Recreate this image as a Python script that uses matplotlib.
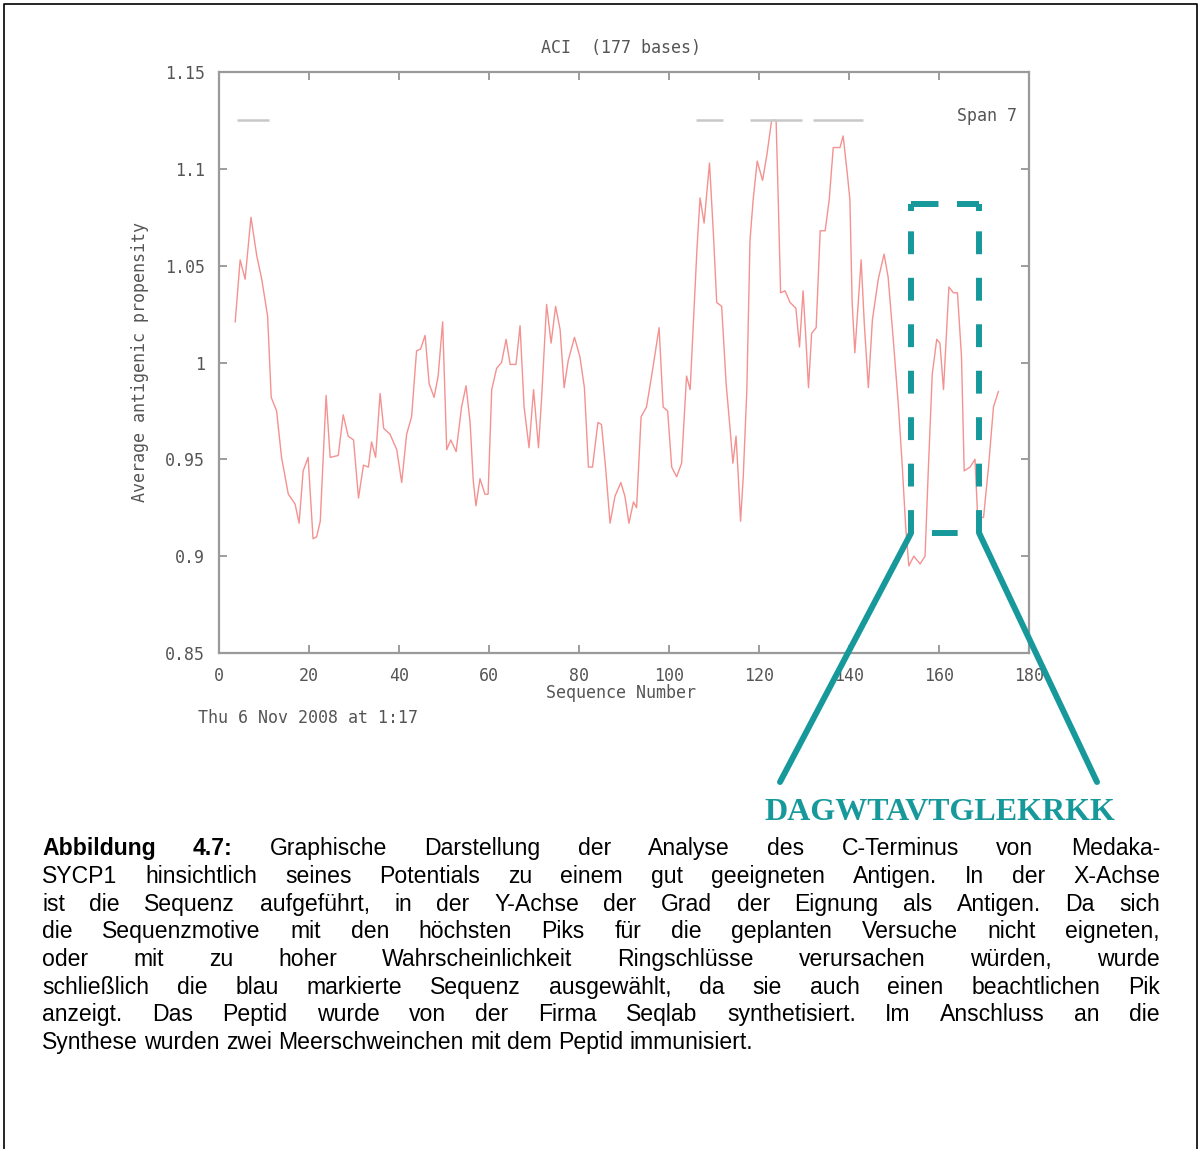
import matplotlib
matplotlib.use("Agg")
import matplotlib.pyplot as plt
from matplotlib.lines import Line2D
from matplotlib.patches import ConnectionPatch
import numpy as np

W, H = 1201, 1149

# antigenic propensity profile (span 7)
seq_pos = [3.6, 4.7, 5.8, 7.1, 8.4, 9.5, 10.8, 11.6, 12.8, 13.9, 15.4, 16.9, 17.8, 18.7, 19.8,
           20.9, 21.7, 22.5, 23.8, 24.7, 26.5, 27.6, 28.7, 29.9, 31.0, 32.1, 33.2, 33.9, 34.8,
           35.8, 36.6, 38.0, 39.5, 40.6, 41.7, 42.8, 43.9, 44.8, 45.8, 46.7, 47.8, 48.7, 49.7,
           50.6, 51.5, 52.7, 53.9, 54.9, 55.8, 56.5, 57.1, 58.0, 59.1, 59.8, 60.6, 61.7, 62.8,
           63.8, 64.7, 66.0, 66.9, 67.8, 68.9, 69.9, 71.0, 71.7, 72.8, 73.8, 74.8, 75.8, 76.7,
           77.6, 79.0, 80.2, 81.2, 82.1, 83.0, 84.2, 85.0, 85.9, 86.9, 88.0, 89.3, 90.2, 91.1,
           92.1, 92.8, 93.8, 95.0, 96.2, 97.8, 98.7, 99.7, 100.6, 101.7, 102.8, 103.9, 104.7,
           105.4, 106.2, 106.9, 107.8, 109.0, 109.9, 110.6, 111.7, 112.7, 113.6, 114.2, 114.9,
           115.4, 115.9, 116.5, 117.3, 118.0, 118.7, 119.6, 120.8, 121.8, 122.8, 123.8, 124.3,
           124.8, 125.8, 126.9, 128.2, 129.0, 129.8, 130.4, 131.0, 131.7, 132.7, 133.6, 134.7,
           135.6, 136.5, 138.0, 138.7, 139.6, 140.2, 140.7, 141.3, 142.7, 143.4, 144.3, 145.2,
           146.5, 147.8, 148.7, 149.9, 151.0, 151.8, 152.6, 153.3, 154.4, 155.8, 156.9, 157.6,
           158.5, 159.5, 160.2, 161.0, 161.7, 162.2, 163.2, 164.1, 165.0, 165.6, 166.9, 168.0,
           168.6, 169.9, 171.0, 172.1, 173.2]
propensity = [1.021, 1.053, 1.043, 1.075, 1.055, 1.043, 1.024, 0.982, 0.975, 0.951, 0.932, 0.927,
              0.917, 0.944, 0.951, 0.909, 0.910, 0.918, 0.983, 0.951, 0.952, 0.973, 0.962, 0.960,
              0.930, 0.947, 0.946, 0.959, 0.951, 0.984, 0.966, 0.963, 0.955, 0.938, 0.963, 0.972,
              1.006, 1.007, 1.014, 0.989, 0.982, 0.993, 1.021, 0.955, 0.960, 0.954, 0.977, 0.988,
              0.969, 0.939, 0.926, 0.940, 0.932, 0.932, 0.986, 0.997, 1.000, 1.012, 0.999, 0.999,
              1.019, 0.977, 0.956, 0.986, 0.956, 0.982, 1.030, 1.010, 1.029, 1.017, 0.987, 1.001,
              1.013, 1.003, 0.987, 0.946, 0.946, 0.969, 0.968, 0.946, 0.917, 0.931, 0.938, 0.931,
              0.917, 0.928, 0.925, 0.972, 0.977, 0.994, 1.018, 0.977, 0.975, 0.946, 0.941, 0.948,
              0.993, 0.986, 1.020, 1.058, 1.085, 1.072, 1.103, 1.065, 1.031, 1.029, 0.989, 0.965,
              0.948, 0.962, 0.941, 0.918, 0.941, 0.986, 1.063, 1.084, 1.104, 1.094, 1.108, 1.125,
              1.125, 1.082, 1.036, 1.037, 1.031, 1.028, 1.008, 1.037, 1.013, 0.987, 1.015, 1.018,
              1.068, 1.068, 1.084, 1.111, 1.111, 1.117, 1.098, 1.084, 1.031, 1.005, 1.053, 1.020,
              0.987, 1.022, 1.043, 1.056, 1.044, 1.010, 0.977, 0.948, 0.915, 0.895, 0.900, 0.896,
              0.900, 0.943, 0.994, 1.012, 1.010, 0.986, 1.017, 1.039, 1.036, 1.036, 1.003, 0.944,
              0.946, 0.950, 0.920, 0.920, 0.946, 0.977, 0.985]

# predicted antigenic stretches (grey bars at 1.125)
region_start = [4, 106, 118, 132]
region_end = [11, 112, 129.5, 143]
region_level = 1.125

x_ticks = [0, 20, 40, 60, 80, 100, 120, 140, 160, 180]
y_ticks = [0.85, 0.9, 0.95, 1.0, 1.05, 1.1, 1.15]
y_ticklabels = ["0.85", "0.9", "0.95", "1", "1.05", "1.1", "1.15"]

# selected peptide window
box_x = (153.8, 168.9)
box_y = (0.912, 1.082)
peptide = "DAGWTAVTGLEKRKK"

caption_lines = [
    "Abbildung 4.7: Graphische Darstellung der Analyse des C-Terminus von Medaka-",
    "SYCP1 hinsichtlich seines Potentials zu einem gut geeigneten Antigen. In der X-Achse",
    "ist die Sequenz aufgeführt, in der Y-Achse der Grad der Eignung als Antigen. Da sich",
    "die Sequenzmotive mit den höchsten Piks für die geplanten Versuche nicht eigneten,",
    "oder mit zu hoher Wahrscheinlichkeit Ringschlüsse verursachen würden, wurde",
    "schließlich die blau markierte Sequenz ausgewählt, da sie auch einen beachtlichen Pik",
    "anzeigt. Das Peptid wurde von der Firma Seqlab synthetisiert. Im Anschluss an die",
    "Synthese wurden zwei Meerschweinchen mit dem Peptid immunisiert.",
]
bold_words = ["Abbildung", "4.7:"]

teal = "#17999b"
grey = "#8c8c8c"
mono = "DejaVu Sans Mono"
gp_size = 12
gp_color = "#555555"


def fp(x, y):
    # pixel position (from top-left) -> figure fraction
    return x / W, 1 - y / H


fig = plt.figure(figsize=(W / 100, H / 100), dpi=100)
ax = fig.add_axes([219 / W, 1 - 653 / H, (1029 - 219) / W, (653 - 72) / H])

ax.plot(seq_pos, propensity, color="#f38585", lw=1.0, alpha=0.9)
ax.hlines([region_level] * len(region_start), region_start, region_end,
          color="#c8c8c8", lw=1.8)

ax.set_xlim(0, 180)
ax.set_ylim(0.85, 1.15)
ax.set_xticks(x_ticks)
ax.set_yticks(y_ticks)
ax.set_yticklabels(y_ticklabels)
ax.tick_params(direction="in", length=6, width=1.2, color=grey, top=True, right=True,
               labelsize=gp_size, labelcolor=gp_color, pad=10)
for lab in ax.get_xticklabels() + ax.get_yticklabels():
    lab.set_family(mono)
for sp in ax.spines.values():
    sp.set_color("#9a9a9a")
    sp.set_linewidth(1.6)

fig.text(*fp(621, 48), "ACI  (177 bases)", family=mono, fontsize=gp_size, color=gp_color,
         ha="center", va="center")
fig.text(*fp(621, 693), "Sequence Number", family=mono, fontsize=gp_size, color=gp_color,
         ha="center", va="center")
fig.text(*fp(140, 362), "Average antigenic propensity", family=mono, fontsize=gp_size,
         color=gp_color, ha="center", va="center", rotation=90)
fig.text(*fp(198, 718), "Thu 6 Nov 2008 at 1:17", family=mono, fontsize=gp_size,
         color=gp_color, ha="left", va="center")
ax.text(0.985, 0.925, "Span 7", transform=ax.transAxes, family=mono, fontsize=gp_size,
        color=gp_color, ha="right", va="center")

# dashed box around the peptide (each side with its own dash phase)
lw_box = 4.3
box_kw = dict(color=teal, lw=lw_box, clip_on=False, zorder=5, solid_capstyle="butt",
              dash_capstyle="butt")
x0, x1 = box_x
y0, y1 = box_y
ax.plot([x0, x0], [y0, y1], linestyle=(0, (3.83, 3.95)), **box_kw)
ax.plot([x1, x1], [y0, y1], linestyle=(0, (3.83, 3.95)), **box_kw)
ax.plot([x0, x1], [y1, y1], linestyle=(0, (4.6, 3.1)), **box_kw)
ax.plot([x0, x1], [y0, y0], linestyle=(0, (0.01, 3.5, 4.3, 10)), **box_kw)
ax.plot([x0, x0], [y1, y1 - 0.004], linestyle="-", **box_kw)
ax.plot([x1, x1], [y1, y1 - 0.004], linestyle="-", **box_kw)

for corner, end in [((x0, y0), (780, 782)), ((x1, y0), (1097, 782))]:
    con = ConnectionPatch(xyA=corner, coordsA=ax.transData,
                          xyB=(end[0], H - end[1]), coordsB="figure pixels",
                          color=teal, lw=lw_box, zorder=6)
    fig.add_artist(con)

fig.text(*fp(940, 813), peptide, family="Liberation Serif", weight="bold", fontsize=23,
         color=teal, ha="center", va="center")

# frame around the figure page
fig.add_artist(Line2D([4 / W, 4 / W, 1197 / W, 1197 / W], [0, 1 - 4 / H, 1 - 4 / H, 0],
                      transform=fig.transFigure, color="black", lw=1.2))

# justified caption
fig.canvas.draw()
renderer = fig.canvas.get_renderer()
left, right = 42, 1160
cap_size = 16.6
line_base = [855, 883, 911, 938, 966, 994, 1021, 1049]
for i, line in enumerate(caption_lines):
    words = line.split()
    texts = []
    widths = []
    for j, w in enumerate(words):
        bold = i == 0 and j < len(bold_words)
        t = fig.text(0, 0, w, family="Liberation Sans", fontsize=cap_size,
                     weight="bold" if bold else "normal", ha="left", va="baseline")
        widths.append(t.get_window_extent(renderer).width)
        texts.append(t)
    if i < len(caption_lines) - 1:
        gap = (right - left - sum(widths)) / (len(words) - 1)
    else:
        gap = cap_size * 100 / 72 * 0.278
    x = left
    for t, w in zip(texts, widths):
        t.set_position(fp(x, line_base[i]))
        x += w + gap

fig.savefig("out.png", dpi=100)
